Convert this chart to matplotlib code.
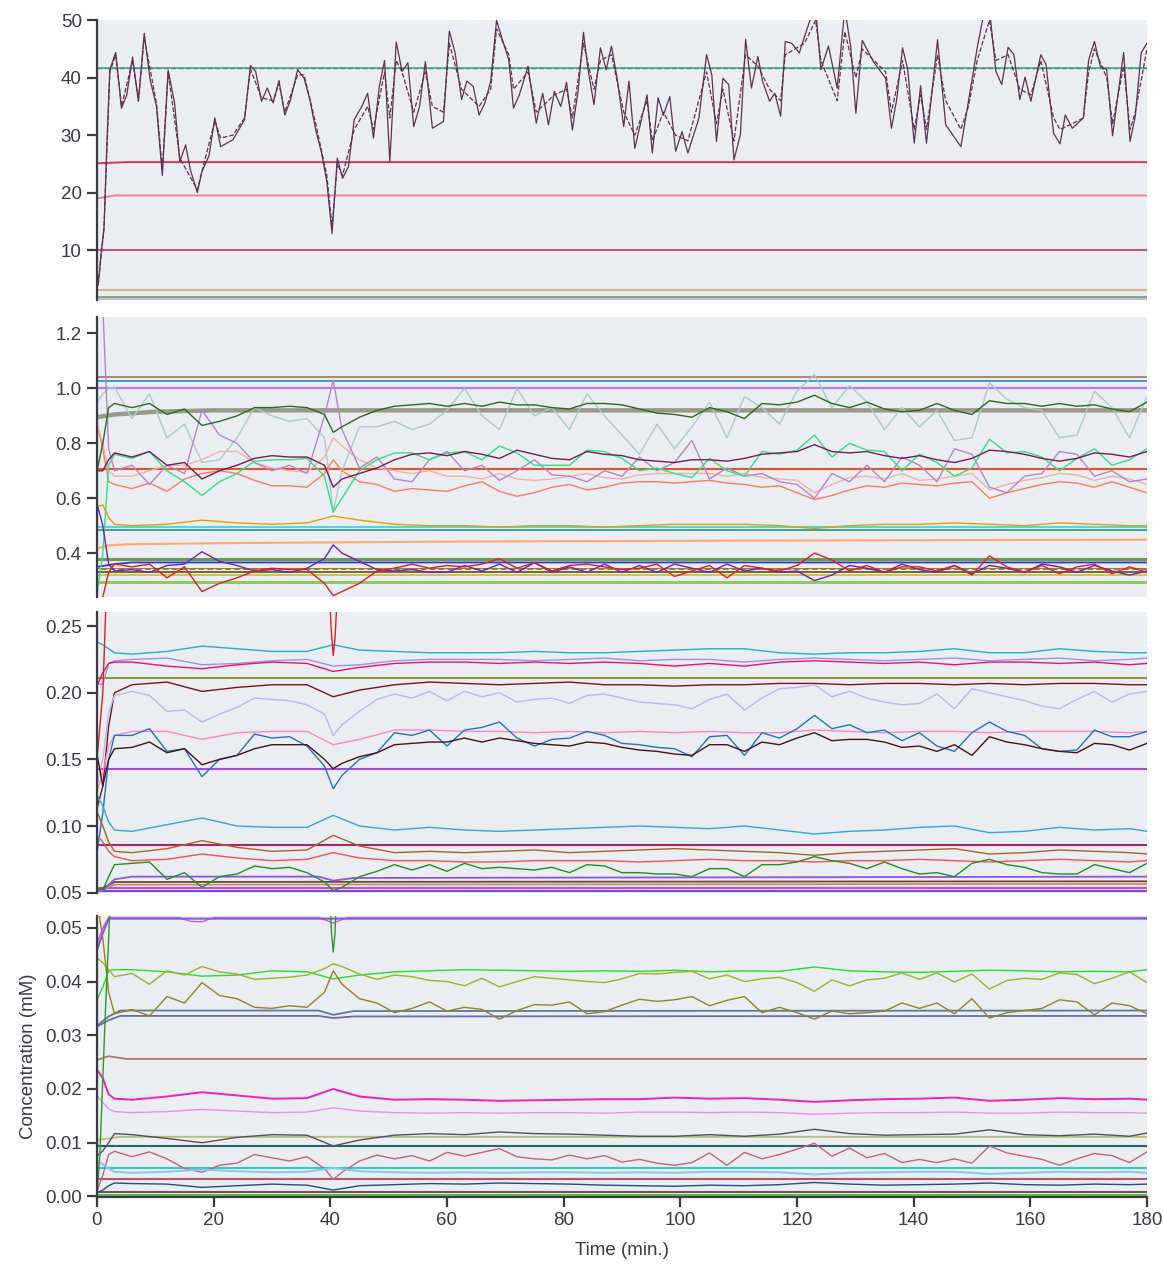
import numpy as np
import matplotlib.pyplot as plt

# ---------------- time grids ----------------
# fine grid (every 3 min, plus the event at 40.5 min)
t_fine = [0, 1, 2] + list(range(3, 40, 3)) + [40.5] + list(range(42, 181, 3))
# coarse grid (every 6 min, plus the event at 40.5 min)
t_coarse = [0, 1, 2, 3, 6, 12, 18, 24, 30, 36, 40.5] + list(range(45, 178, 6)) + [180]
t_flat = [0, 180]

# ---------------- panel 1 (mM, large) ----------------
t_main = [0.2, 0.7, 1.2, 1.7, 2.2, 3.2, 4.2, 5.1, 6.1, 7.1, 8.1, 9.1, 10.2, 11.2, 12.2,
          13.3, 14.2, 15.2, 16.0, 17.2, 18.0, 19.2, 20.2, 21.2, 23.3, 25.3, 26.3, 27.2,
          28.2, 29.2, 30.2, 31.2, 32.2, 33.2, 34.4, 35.5, 36.5, 37.5, 38.5, 39.4, 40.3,
          41.2, 42.1, 43.1, 44.1, 45.4, 46.4, 47.4, 48.4, 49.3, 50.2, 51.3, 52.3, 53.3,
          54.3, 55.3, 56.3, 57.5, 59.4, 60.4, 61.4, 62.5, 63.4, 64.5, 65.5, 66.5, 67.5,
          68.5, 69.5, 70.6, 71.4, 72.4, 73.9, 75.3, 76.4, 77.4, 78.4, 79.5, 80.5, 81.5,
          82.5, 83.4, 84.1, 85.2, 86.3, 87.3, 88.2, 89.2, 90.3, 91.2, 92.2, 94.3, 95.2,
          96.2, 97.1, 98.2, 99.2, 100.3, 101.3, 103.2, 104.5, 105.4, 106.2, 107.3, 108.3,
          109.2, 110.3, 111.2, 112.2, 113.3, 114.1, 115.3, 116.2, 117.2, 118.0, 119.1,
          120.4, 121.3, 122.4, 123.2, 124.1, 125.4, 126.9, 128.2, 129.2, 130.1, 131.2,
          133.1, 135.2, 136.2, 137.1, 138.1, 139.0, 140.1, 141.2, 142.2, 144.1, 145.5,
          148.1, 149.4, 150.9, 152.0, 153.0, 154.1, 155.1, 156.2, 157.2, 158.2, 159.1,
          160.1, 161.8, 162.7, 164.0, 165.1, 166.0, 167.2, 169.1, 170.0, 171.0, 172.0,
          173.1, 174.1, 176.0, 177.1, 178.0, 179.0, 180.0]
c_main = [3.9, 9.4, 13.8, 28.6, 41.4, 44.4, 34.7, 37.0, 43.6, 35.9, 47.7, 39.7, 35.0, 23.0,
          41.3, 35.6, 25.4, 28.3, 24.0, 20.0, 23.7, 26.4, 33.0, 28.0, 29.2, 32.7, 42.1, 41.1,
          35.9, 38.2, 35.6, 39.5, 33.5, 36.2, 41.4, 39.9, 36.2, 30.9, 26.9, 21.9, 12.9,
          26.0, 22.5, 24.5, 32.7, 35.0, 37.3, 29.5, 38.5, 43.0, 25.4, 46.2, 41.1, 42.6,
          31.5, 35.0, 42.8, 31.2, 32.4, 48.1, 44.3, 36.2, 39.4, 38.5, 33.5, 35.6, 39.4,
          50.0, 46.6, 43.1, 34.7, 37.0, 42.0, 32.1, 37.3, 31.8, 37.6, 35.0, 39.2, 30.9,
          37.9, 47.9, 42.0, 35.3, 45.2, 41.4, 45.5, 39.7, 31.5, 39.4, 27.7, 37.0, 26.9,
          36.5, 33.5, 36.7, 27.2, 30.6, 26.9, 33.0, 44.0, 40.5, 28.9, 39.9, 38.8,
          25.7, 30.1, 46.7, 38.2, 43.7, 39.4, 35.9, 37.3, 33.3, 46.3, 46.0,
          44.3, 47.2, 50.5, 52.0, 41.4, 45.5, 38.2, 52.0, 45.5, 33.8, 46.5,
          42.8, 39.9, 31.2, 36.2, 45.2, 41.4, 28.6, 38.6, 28.6, 46.6, 31.8,
          28.0, 35.9, 45.2, 51.0, 52.0, 41.1, 38.8, 45.3, 44.0, 36.2, 40.1,
          35.9, 44.0, 42.3, 30.3, 28.5, 33.5, 31.2, 33.0, 43.1, 46.3, 42.0,
          41.4, 29.9, 44.4, 28.9, 33.3, 44.3, 46.0]
t_main_pred = [0.2, 1.2, 2.2, 3.2, 4.2, 6.1, 7.1, 8.1, 10.2, 11.2, 12.2, 14.2, 17.2, 20.2,
               21.2, 23.3, 25.3, 26.3, 28.2, 30.2, 31.2, 32.2, 34.4, 35.5, 37.5, 39.4, 40.3,
               41.2, 42.1, 44.1, 46.4, 47.4, 49.3, 50.2, 51.3, 52.3, 54.3, 56.3, 57.5, 59.4,
               60.4, 62.5, 65.5, 67.5, 68.5, 70.6, 71.4, 73.9, 75.3, 78.4, 80.5, 81.5, 83.4,
               85.2, 86.3, 88.2, 90.3, 92.2, 94.3, 95.2, 97.1, 99.2, 101.3, 104.5, 106.2,
               107.3, 109.2, 111.2, 113.3, 115.3, 117.2, 118.0, 121.3, 123.2, 124.1, 126.9,
               128.2, 130.1, 131.2, 135.2, 136.2, 138.1, 140.1, 141.2, 142.2, 144.1, 145.5,
               148.1, 149.4, 150.9, 153.0, 154.1, 156.2, 158.2, 160.1, 161.8, 164.0, 165.1,
               167.2, 169.1, 170.0, 171.0, 173.1, 174.1, 176.0, 177.1, 178.0, 180.0]
c_main_pred = [3.9, 13.8, 41.0, 44.0, 35.0, 43.0, 36.0, 47.0, 35.5, 24.0, 41.0, 26.0, 20.5, 32.5,
               29.5, 30.0, 33.0, 41.5, 36.5, 36.0, 39.0, 34.0, 40.5, 40.5, 32.0, 23.0, 14.0,
               25.0, 23.0, 31.0, 35.0, 31.0, 41.0, 33.0, 43.0, 41.0, 34.0, 41.0, 35.0, 34.0,
               46.0, 38.0, 35.0, 38.0, 48.5, 44.0, 38.0, 41.0, 34.0, 37.0, 38.0, 33.0, 46.0,
               38.0, 43.0, 44.0, 34.0, 30.0, 36.0, 29.0, 34.0, 30.0, 29.0, 41.0, 32.0,
               38.0, 29.0, 44.0, 42.0, 38.0, 36.0, 44.0, 46.0, 50.0, 43.0, 36.0,
               48.0, 40.0, 45.0, 41.0, 34.0, 43.0, 31.0, 37.0, 31.0, 44.0, 36.0,
               31.0, 35.0, 43.0, 50.0, 43.0, 44.0, 38.0, 37.0, 43.0, 33.0, 31.0,
               32.0, 33.0, 41.0, 45.0, 40.0, 32.0, 42.0, 31.0, 34.0, 45.0]
p1_teal = [41.7, 41.7]
p1_crimson_t = [0, 5, 180]
p1_crimson = [25.1, 25.3, 25.3]
p1_pink_t = [0, 3, 180]
p1_pink = [19.0, 19.5, 19.5]
p1_ten_a = [10.05, 10.05]
p1_ten_b = [9.95, 9.95]
p1_tan = [3.0, 3.0]
p1_green = [1.75, 1.75]
p1_lilac = [1.45, 1.45]

# ---------------- panel 2 ----------------
p2_dkgreen = [0.70, 0.80, 0.93, 0.945, 0.93, 0.945, 0.905, 0.925, 0.865, 0.88, 0.90, 0.93,
              0.93, 0.935, 0.93, 0.905, 0.84, 0.86, 0.895, 0.92, 0.935, 0.94, 0.945, 0.935,
              0.945, 0.935, 0.95, 0.94, 0.94, 0.93, 0.925, 0.945, 0.945, 0.94, 0.925, 0.91,
              0.905, 0.895, 0.93, 0.915, 0.89, 0.945, 0.94, 0.95,
              0.975, 0.945, 0.93, 0.95, 0.925, 0.915, 0.92, 0.945, 0.92, 0.905, 0.955, 0.945,
              0.945, 0.935, 0.945, 0.935, 0.94, 0.925, 0.915, 0.95]
p2_ltteal = [0.95, 0.98, 1.0, 1.005, 0.89, 0.98, 0.82, 0.87, 0.73, 0.74, 0.82, 0.93,
             0.90, 0.88, 0.89, 0.82, 0.55, 0.70, 0.86, 0.86, 0.88, 0.85, 0.87, 0.92,
             1.0, 0.9, 0.85, 1.0, 0.9, 0.93, 0.85, 0.98, 0.9, 0.83, 0.76, 0.87,
             0.78, 0.86, 0.95, 0.82, 0.97, 0.93, 0.87, 0.99,
             1.05, 0.93, 1.01, 0.95, 0.85, 0.93, 0.86, 0.92, 0.81, 0.82, 1.02, 0.96,
             0.93, 0.92, 0.82, 0.83, 0.99, 0.93, 0.82, 0.97]
p2_plum = [0.70, 0.70, 0.74, 0.765, 0.75, 0.77, 0.72, 0.73, 0.67, 0.70, 0.72, 0.745,
           0.755, 0.75, 0.75, 0.72, 0.64, 0.67, 0.69, 0.71, 0.74, 0.76, 0.765, 0.755,
           0.77, 0.76, 0.745, 0.775, 0.76, 0.745, 0.74, 0.77, 0.76, 0.755, 0.74, 0.735,
           0.73, 0.74, 0.74, 0.735, 0.745, 0.76, 0.765, 0.77,
           0.795, 0.77, 0.765, 0.77, 0.755, 0.745, 0.755, 0.74, 0.73, 0.745, 0.775, 0.77,
           0.76, 0.745, 0.735, 0.745, 0.765, 0.76, 0.75, 0.77]
p2_spring = [0.25, 0.40, 0.72, 0.76, 0.745, 0.77, 0.70, 0.66, 0.61, 0.66, 0.69, 0.735,
             0.74, 0.74, 0.745, 0.68, 0.55, 0.60, 0.70, 0.74, 0.765, 0.765, 0.74, 0.765,
             0.77, 0.74, 0.79, 0.765, 0.72, 0.72, 0.72, 0.775, 0.77, 0.745, 0.70, 0.71,
             0.69, 0.675, 0.745, 0.70, 0.68, 0.77, 0.76, 0.775,
             0.83, 0.75, 0.80, 0.775, 0.77, 0.70, 0.76, 0.73, 0.68, 0.71, 0.815, 0.765,
             0.77, 0.75, 0.70, 0.745, 0.78, 0.72, 0.74, 0.78]
p2_lavender = [1.30, 1.30, 0.78, 0.70, 0.72, 0.65, 0.72, 0.69, 0.92, 0.83, 0.80, 0.73,
               0.70, 0.72, 0.69, 0.90, 1.03, 0.85, 0.71, 0.75, 0.67, 0.66, 0.74, 0.77,
               0.70, 0.72, 0.665, 0.70, 0.74, 0.685, 0.68, 0.66, 0.70, 0.68, 0.75, 0.70,
               0.73, 0.81, 0.67, 0.71, 0.68, 0.69, 0.66, 0.65,
               0.60, 0.69, 0.66, 0.72, 0.66, 0.75, 0.72, 0.66, 0.78, 0.76, 0.64, 0.62,
               0.68, 0.69, 0.77, 0.76, 0.68, 0.70, 0.66, 0.67]
p2_salmon = [0.87, 0.80, 0.70, 0.68, 0.68, 0.70, 0.72, 0.72, 0.74, 0.77, 0.77, 0.73,
             0.71, 0.70, 0.695, 0.75, 0.82, 0.79, 0.74, 0.71, 0.70, 0.69, 0.70, 0.68,
             0.68, 0.67, 0.69, 0.67, 0.665, 0.67, 0.68, 0.69, 0.675, 0.67, 0.685, 0.69,
             0.69, 0.69, 0.69, 0.68, 0.69, 0.675, 0.67, 0.665,
             0.62, 0.65, 0.675, 0.68, 0.67, 0.69, 0.665, 0.67, 0.68, 0.69, 0.63, 0.65,
             0.665, 0.675, 0.69, 0.685, 0.665, 0.68, 0.67, 0.65]
p2_coral = [0.87, 0.78, 0.66, 0.65, 0.635, 0.655, 0.625, 0.67, 0.69, 0.70, 0.69, 0.665,
            0.645, 0.645, 0.64, 0.69, 0.74, 0.70, 0.66, 0.65, 0.625, 0.635, 0.63, 0.625,
            0.645, 0.66, 0.625, 0.607, 0.62, 0.64, 0.65, 0.63, 0.64, 0.655, 0.66, 0.66,
            0.655, 0.66, 0.665, 0.655, 0.65, 0.64, 0.645, 0.62,
            0.595, 0.61, 0.63, 0.645, 0.64, 0.655, 0.65, 0.645, 0.655, 0.66, 0.60, 0.62,
            0.635, 0.65, 0.66, 0.655, 0.64, 0.66, 0.64, 0.62]
p2_purple = [0.58, 0.50, 0.36, 0.335, 0.34, 0.33, 0.355, 0.36, 0.405, 0.37, 0.355, 0.335,
             0.34, 0.33, 0.345, 0.38, 0.43, 0.40, 0.37, 0.34, 0.335, 0.34, 0.33, 0.33,
             0.355, 0.335, 0.36, 0.33, 0.365, 0.33, 0.35, 0.33, 0.36, 0.33, 0.355, 0.33,
             0.36, 0.345, 0.33, 0.36, 0.335, 0.345, 0.33, 0.335,
             0.30, 0.32, 0.355, 0.345, 0.33, 0.36, 0.34, 0.33, 0.355, 0.325, 0.355, 0.345,
             0.33, 0.36, 0.35, 0.33, 0.355, 0.335, 0.32, 0.335]
p2_red = [0.20, 0.24, 0.33, 0.36, 0.35, 0.36, 0.31, 0.35, 0.26, 0.29, 0.31, 0.335,
          0.345, 0.34, 0.34, 0.29, 0.245, 0.26, 0.29, 0.335, 0.345, 0.36, 0.345, 0.355,
          0.35, 0.36, 0.38, 0.345, 0.365, 0.335, 0.355, 0.36, 0.35, 0.34, 0.345, 0.36,
          0.315, 0.335, 0.355, 0.31, 0.355, 0.345, 0.335, 0.355,
          0.40, 0.375, 0.335, 0.355, 0.33, 0.35, 0.35, 0.335, 0.355, 0.32, 0.39, 0.35,
          0.33, 0.355, 0.325, 0.35, 0.36, 0.325, 0.35, 0.33]
p2_gold = [0.57, 0.575, 0.53, 0.505, 0.50, 0.505, 0.52, 0.51, 0.505, 0.51, 0.535, 0.52,
           0.505, 0.50, 0.50, 0.495, 0.50, 0.50, 0.495, 0.50, 0.505, 0.505, 0.505, 0.50,
           0.49, 0.50, 0.505, 0.505, 0.51, 0.505, 0.50, 0.51, 0.505, 0.50, 0.50]
p2_grey_t = [0, 3, 10, 20, 180]
p2_grey = [0.895, 0.905, 0.915, 0.92, 0.92]
p2_lorange_t = [0, 2, 5, 20, 60, 120, 180]
p2_lorange = [0.417, 0.428, 0.432, 0.436, 0.442, 0.446, 0.449]
p2_blue_t = [0, 3, 6, 180]
p2_blue = [0.35, 0.36, 0.366, 0.366]
p2_flats = {"brown": 1.043, "steel": 1.027, "violet": 1.0, "orangered": 0.707,
            "cyan": 0.495, "teal": 0.486, "green": 0.378, "olivebrown": 0.342,
            "darkolive": 0.333, "yellow": 0.320, "lightgreen": 0.293}

# ---------------- panel 3 ----------------
p3_cyan = [0.238, 0.236, 0.233, 0.230, 0.229, 0.231, 0.235, 0.233, 0.231, 0.231, 0.236, 0.232,
           0.231, 0.230, 0.230, 0.230, 0.231, 0.230, 0.230, 0.231, 0.232, 0.233, 0.233, 0.230,
           0.229, 0.230, 0.230, 0.231, 0.233, 0.230, 0.230, 0.233, 0.231, 0.230, 0.230]
p3_peri = [0.207, 0.206, 0.222, 0.224, 0.225, 0.226, 0.221, 0.222, 0.224, 0.225, 0.220, 0.221,
           0.224, 0.225, 0.225, 0.225, 0.224, 0.225, 0.226, 0.224, 0.225, 0.225, 0.223, 0.225,
           0.226, 0.225, 0.224, 0.225, 0.226, 0.224, 0.225, 0.226, 0.224, 0.225, 0.226]
p3_crimson = [0.205, 0.215, 0.222, 0.223, 0.223, 0.220, 0.218, 0.221, 0.223, 0.222, 0.216, 0.219,
              0.222, 0.223, 0.223, 0.222, 0.223, 0.222, 0.223, 0.222, 0.220, 0.222, 0.220, 0.223,
              0.224, 0.223, 0.222, 0.223, 0.221, 0.223, 0.223, 0.222, 0.223, 0.221, 0.222]
p3_maroon = [0.113, 0.13, 0.175, 0.200, 0.206, 0.208, 0.201, 0.204, 0.206, 0.206, 0.197, 0.202,
             0.206, 0.208, 0.207, 0.206, 0.207, 0.208, 0.206, 0.206, 0.205, 0.206, 0.206, 0.207,
             0.207, 0.206, 0.207, 0.207, 0.206, 0.207, 0.206, 0.207, 0.207, 0.206, 0.206]
p3_lilac = [0.131, 0.15, 0.185, 0.198, 0.201, 0.198, 0.186, 0.187, 0.178, 0.184, 0.189, 0.196,
            0.195, 0.194, 0.191, 0.184, 0.168, 0.176, 0.186, 0.195, 0.199, 0.196, 0.201, 0.194,
            0.201, 0.197, 0.200, 0.193, 0.195, 0.196, 0.192, 0.198, 0.199, 0.196, 0.193, 0.192,
            0.191, 0.188, 0.195, 0.199, 0.187, 0.196, 0.203, 0.204,
            0.206, 0.197, 0.201, 0.196, 0.193, 0.191, 0.192, 0.199, 0.188, 0.203, 0.200, 0.197,
            0.194, 0.190, 0.188, 0.195, 0.201, 0.193, 0.199, 0.201]
p3_pink = [0.126, 0.14, 0.16, 0.168, 0.171, 0.171, 0.165, 0.170, 0.171, 0.171, 0.161, 0.165,
           0.172, 0.172, 0.171, 0.171, 0.170, 0.171, 0.170, 0.171, 0.170, 0.171, 0.170, 0.170,
           0.172, 0.171, 0.170, 0.171, 0.171, 0.170, 0.171, 0.171, 0.171, 0.170, 0.171]
p3_blue = [0.08, 0.11, 0.15, 0.168, 0.168, 0.173, 0.156, 0.158, 0.137, 0.150, 0.153, 0.169,
           0.166, 0.167, 0.160, 0.145, 0.128, 0.138, 0.150, 0.155, 0.170, 0.168, 0.172, 0.160,
           0.172, 0.174, 0.178, 0.166, 0.160, 0.165, 0.166, 0.171, 0.168, 0.162, 0.161, 0.159,
           0.158, 0.152, 0.167, 0.168, 0.153, 0.170, 0.166, 0.173,
           0.183, 0.173, 0.176, 0.170, 0.172, 0.164, 0.170, 0.160, 0.156, 0.170, 0.178, 0.171,
           0.168, 0.158, 0.156, 0.157, 0.172, 0.167, 0.167, 0.171]
p3_dkbrown = [0.154, 0.13, 0.15, 0.158, 0.159, 0.163, 0.155, 0.158, 0.146, 0.150, 0.153, 0.158,
              0.161, 0.161, 0.161, 0.150, 0.143, 0.147, 0.152, 0.155, 0.161, 0.162, 0.163, 0.163,
              0.166, 0.163, 0.166, 0.164, 0.162, 0.161, 0.160, 0.163, 0.162, 0.159, 0.157, 0.156,
              0.154, 0.153, 0.161, 0.161, 0.156, 0.163, 0.161, 0.166,
              0.170, 0.164, 0.165, 0.165, 0.163, 0.159, 0.160, 0.156, 0.161, 0.153, 0.167, 0.163,
              0.161, 0.158, 0.156, 0.155, 0.162, 0.161, 0.157, 0.162]
p3_sky = [0.123, 0.115, 0.103, 0.097, 0.096, 0.101, 0.106, 0.100, 0.099, 0.099, 0.108, 0.100,
          0.097, 0.099, 0.097, 0.096, 0.097, 0.098, 0.099, 0.100, 0.099, 0.098, 0.100, 0.097,
          0.094, 0.096, 0.097, 0.099, 0.100, 0.095, 0.096, 0.099, 0.097, 0.098, 0.096]
p3_sienna = [0.111, 0.10, 0.088, 0.081, 0.080, 0.083, 0.089, 0.084, 0.081, 0.082, 0.093, 0.085,
             0.080, 0.081, 0.080, 0.081, 0.082, 0.080, 0.081, 0.082, 0.083, 0.082, 0.081, 0.080,
             0.078, 0.080, 0.081, 0.082, 0.083, 0.079, 0.080, 0.082, 0.081, 0.080, 0.079]
p3_ltred = [0.093, 0.088, 0.081, 0.077, 0.074, 0.075, 0.079, 0.076, 0.074, 0.075, 0.080, 0.076,
            0.074, 0.074, 0.073, 0.073, 0.074, 0.074, 0.074, 0.073, 0.074, 0.075, 0.074, 0.074,
            0.073, 0.074, 0.074, 0.075, 0.074, 0.073, 0.074, 0.075, 0.074, 0.073, 0.074]
p3_green = [0.053, 0.052, 0.062, 0.071, 0.072, 0.073, 0.060, 0.065, 0.054, 0.062, 0.064, 0.070,
            0.068, 0.069, 0.065, 0.058, 0.0515, 0.054, 0.062, 0.066, 0.071, 0.067, 0.071, 0.066,
            0.072, 0.068, 0.069, 0.068, 0.067, 0.069, 0.065, 0.071, 0.070, 0.065, 0.065, 0.064,
            0.064, 0.062, 0.068, 0.068, 0.062, 0.071, 0.071, 0.073,
            0.077, 0.074, 0.072, 0.068, 0.073, 0.068, 0.064, 0.065, 0.062, 0.072, 0.075, 0.071,
            0.069, 0.065, 0.064, 0.064, 0.071, 0.068, 0.065, 0.072]
p3_mpurple_t = [0, 1, 2, 3, 6, 38, 40.5, 44, 180]
p3_mpurple = [0.052, 0.051, 0.056, 0.060, 0.062, 0.062, 0.059, 0.061, 0.062]
p3_browns_t = [0, 3, 180]
p3_brown_a = [0.051, 0.058, 0.0585]
p3_brown_b = [0.050, 0.056, 0.0565]
p3_spike_t = [0, 1, 1.8, 39.5, 40.2, 40.5, 40.8, 41.5, 180]
p3_spike = [0.15, 0.20, 0.30, 0.30, 0.245, 0.228, 0.24, 0.30, 0.30]
p3_flats = {"olive": 0.2108, "purple": 0.1425, "darkmagenta": 0.0858,
            "magenta": 0.0535, "blueviolet": 0.0515}

# ---------------- panel 4 ----------------
p4_violet_t = [0, 1, 2, 180]
p4_violet = [0.0459, 0.049, 0.0517, 0.0517]
p4_magenta_top_t = [0, 1, 2, 14, 16, 18, 20, 38, 40.5, 43, 180]
p4_magenta_top = [0.047, 0.050, 0.0519, 0.0519, 0.0512, 0.0511, 0.0519, 0.0519, 0.0509,
                  0.0519, 0.0519]
p4_spike_t = [0, 0.5, 1.0, 1.5, 2.0, 2.4, 39.8, 40.2, 40.5, 40.8, 41.2, 180]
p4_spike = [0.0, 0.008, 0.022, 0.036, 0.048, 0.06, 0.06, 0.049, 0.0455, 0.049, 0.06, 0.06]
p4_lime = [0.0366, 0.039, 0.042, 0.0422, 0.0422, 0.0418, 0.0410, 0.0412, 0.0420, 0.0418, 0.0405,
           0.0412, 0.0418, 0.0420, 0.0422, 0.0421, 0.0420, 0.0419, 0.0420, 0.0419, 0.0421,
           0.0418, 0.0420, 0.0419, 0.0427, 0.0420, 0.0418, 0.0417, 0.0419, 0.0421, 0.0420,
           0.0418, 0.0419, 0.0418, 0.0422]
p4_yolive = [0.0444, 0.0435, 0.0422, 0.0409, 0.0415, 0.0395, 0.0420, 0.0412, 0.0428, 0.0418,
             0.0414, 0.0404, 0.0406, 0.0408, 0.0412, 0.0424, 0.0433, 0.0428, 0.0414, 0.0404,
             0.0412, 0.0409, 0.0402, 0.0400,
             0.0392, 0.0406, 0.0390, 0.0400, 0.0409, 0.0406, 0.0403, 0.0400, 0.0398, 0.0405,
             0.0415, 0.0414, 0.0417, 0.0419, 0.0405, 0.0412, 0.0400, 0.0405, 0.0408, 0.0398,
             0.0382, 0.0403, 0.0392, 0.0403, 0.0406, 0.0416, 0.0404, 0.0416, 0.0399, 0.0414,
             0.0386, 0.0402, 0.0406, 0.0404, 0.0416, 0.0413, 0.0396, 0.0406, 0.0418, 0.0398]
p4_obrown = [0.055, 0.048, 0.038, 0.0340, 0.0348, 0.0336, 0.0372, 0.0360, 0.0398, 0.0374,
             0.0368, 0.0352, 0.0350, 0.0355, 0.0352, 0.0380, 0.0420, 0.0395, 0.0368, 0.0360,
             0.0342, 0.0350, 0.0362, 0.0345,
             0.0352, 0.0348, 0.0330, 0.0346, 0.0357, 0.0356, 0.0362, 0.0340, 0.0344, 0.0356,
             0.0367, 0.0363, 0.0366, 0.0372, 0.0355, 0.0365, 0.0372, 0.0342, 0.0352, 0.0342,
             0.0330, 0.0345, 0.0340, 0.0342, 0.0345, 0.0360, 0.0350, 0.0360, 0.0340, 0.0368,
             0.0332, 0.0342, 0.0346, 0.0350, 0.0366, 0.0362, 0.0338, 0.0360, 0.0355, 0.0340]
p4_slate_t = [0, 2, 4, 38, 40.5, 44, 180]
p4_slate = [0.0318, 0.0335, 0.0346, 0.0346, 0.0338, 0.0345, 0.0346]
p4_navylav = [0.0316, 0.0328, 0.0336, 0.0336, 0.0332, 0.0335, 0.0336]
p4_rosybrown_t = [0, 2, 5, 180]
p4_rosybrown = [0.0254, 0.0261, 0.0256, 0.0256]
p4_magenta = [0.0236, 0.022, 0.019, 0.0182, 0.0180, 0.0186, 0.0194, 0.0188, 0.0182, 0.0183,
              0.0200, 0.0186, 0.0180, 0.0181, 0.0180, 0.0178, 0.0179, 0.0180, 0.0181, 0.0181,
              0.0184, 0.0182, 0.0183, 0.0180, 0.0176, 0.0179, 0.0181, 0.0182, 0.0184, 0.0178,
              0.0180, 0.0183, 0.0181, 0.0182, 0.0180]
p4_orchid = [0.0187, 0.0175, 0.0163, 0.0158, 0.0156, 0.0158, 0.0162, 0.0159, 0.0156, 0.0157,
             0.0165, 0.0159, 0.0156, 0.0155, 0.0156, 0.0155, 0.0156, 0.0156, 0.0155, 0.0157,
             0.0157, 0.0156, 0.0157, 0.0156, 0.0153, 0.0155, 0.0156, 0.0156, 0.0157, 0.0155,
             0.0155, 0.0157, 0.0156, 0.0156, 0.0155]
p4_plumgrey = [0.0075, 0.0085, 0.010, 0.0117, 0.0115, 0.0108, 0.0100, 0.0110, 0.0115, 0.0114,
               0.0094, 0.0105, 0.0114, 0.0117, 0.0115, 0.0120, 0.0117, 0.0116, 0.0114, 0.0112,
               0.0112, 0.0115, 0.0112, 0.0116, 0.0125, 0.0117, 0.0114, 0.0115, 0.0116, 0.0124,
               0.0115, 0.0113, 0.0116, 0.0112, 0.0118]
p4_olivelight_t = [0, 4, 180]
p4_olivelight = [0.0105, 0.0111, 0.0111]
p4_rose = [0.001, 0.004, 0.0078, 0.0084, 0.0074, 0.0083, 0.0070, 0.0052, 0.0045, 0.0058,
           0.0062, 0.0078, 0.0072, 0.0066, 0.0074, 0.0052, 0.0032, 0.0045, 0.0066, 0.0077,
           0.0070, 0.0076, 0.0066, 0.0082,
           0.0075, 0.0082, 0.0089, 0.0074, 0.0070, 0.0068, 0.0077, 0.0070, 0.0076, 0.0064,
           0.0069, 0.0062, 0.0058, 0.0063, 0.0081, 0.0058, 0.0082, 0.0070, 0.0078, 0.0088,
           0.0099, 0.0075, 0.0090, 0.0072, 0.0080, 0.0063, 0.0069, 0.0063, 0.0070, 0.0062,
           0.0094, 0.0081, 0.0075, 0.0069, 0.0058, 0.0070, 0.0080, 0.0076, 0.0063, 0.0083]
p4_ltsky = [0.0066, 0.006, 0.0052, 0.0046, 0.0044, 0.0046, 0.0050, 0.0047, 0.0045, 0.0046,
            0.0053, 0.0047, 0.0045, 0.0044, 0.0045, 0.0044, 0.0045, 0.0045, 0.0044, 0.0045,
            0.0044, 0.0046, 0.0046, 0.0045, 0.0041, 0.0044, 0.0045, 0.0046, 0.0046, 0.0042,
            0.0044, 0.0046, 0.0045, 0.0046, 0.0044]
p4_navy = [0.0007, 0.0012, 0.0020, 0.0025, 0.0024, 0.0023, 0.0017, 0.0020, 0.0023, 0.0021,
           0.0012, 0.0020, 0.0022, 0.0024, 0.0023, 0.0025, 0.0024, 0.0023, 0.0021, 0.0020,
           0.0019, 0.0021, 0.0020, 0.0022, 0.0026, 0.0023, 0.0021, 0.0022, 0.0023, 0.0025,
           0.0022, 0.0021, 0.0023, 0.0022, 0.0023]
p4_flats = {"darkteal": 0.0093, "turquoise": 0.0053, "maroon": 0.0033,
            "darkbrown": 0.0009, "green": 0.0003}

# ---------------- figure ----------------
BG = "#eaedf2"
INK = "#3a3a44"
plt.rcParams["font.family"] = ["Liberation Sans", "DejaVu Sans"]

fig = plt.figure(figsize=(11.63, 12.66), dpi=100)
rects = [[0.0834, 0.763, 0.9028, 0.221],
         [0.0834, 0.5284, 0.9028, 0.2212],
         [0.0834, 0.2946, 0.9028, 0.222],
         [0.0834, 0.0545, 0.9028, 0.222]]
axes = [fig.add_axes(r) for r in rects]

LW = 1.0

# panel 1
ax = axes[0]
ax.plot(t_flat, p1_teal, color="#5fae9e", lw=1.3)
ax.plot(t_flat, p1_teal, color="#3f9484", lw=1.0, ls="--")
ax.plot(p1_crimson_t, p1_crimson, color="#d2335a", lw=1.4)
ax.plot(p1_pink_t, p1_pink, color="#f27d93", lw=1.4)
ax.plot(t_flat, p1_ten_a, color="#7060a8", lw=1.1)
ax.plot(t_flat, p1_ten_b, color="#d84a5a", lw=1.1)
ax.plot(t_flat, p1_tan, color="#dcb48a", lw=1.6)
ax.plot(t_flat, p1_green, color="#5e9e70", lw=1.2)
ax.plot(t_flat, p1_lilac, color="#c9a6d6", lw=1.2)
ax.plot(t_main_pred, c_main_pred, color="#5e3052", lw=0.9, ls="--")
ax.plot(t_main, c_main, color="#5e3052", lw=0.9)
ax.set_ylim(1.3, 50)
ax.set_yticks([10, 20, 30, 40, 50])

# panel 2
ax = axes[1]
flat_colors2 = {"brown": "#a08070", "steel": "#3d93c9", "violet": "#b77af5",
                "orangered": "#e2542a", "cyan": "#4fd6e6", "teal": "#2e9c96",
                "green": "#6a9a50", "olivebrown": "#8a7030", "darkolive": "#6f5a12",
                "yellow": "#c9c43c", "lightgreen": "#8fca5e"}
flat_lw2 = {"violet": 1.6, "orangered": 1.5, "green": 2.2, "lightgreen": 2.2, "cyan": 1.5}
for name, val in p2_flats.items():
    ax.plot(t_flat, [val, val], color=flat_colors2[name], lw=flat_lw2.get(name, 1.3))
ax.plot(t_flat, [p2_flats["olivebrown"]] * 2, color="#e8e0c0", lw=0.8, ls=(0, (3, 5)))
ax.plot(p2_grey_t, p2_grey, color="#8b8b78", lw=3.2, alpha=0.85)
ax.plot(p2_lorange_t, p2_lorange, color="#ffa872", lw=1.5)
ax.plot(p2_blue_t, p2_blue, color="#2a3ad0", lw=1.3)
ax.plot(t_fine, p2_ltteal, color="#a9cccb", lw=LW)
ax.plot(t_fine, p2_coral, color="#ff7a5a", lw=LW)
ax.plot(t_fine, p2_salmon, color="#f0b2a8", lw=LW)
ax.plot(t_fine, p2_lavender, color="#b584cc", lw=LW)
ax.plot(t_fine, p2_spring, color="#2fe084", lw=LW)
ax.plot(t_fine, p2_plum, color="#7a1a5a", lw=LW)
ax.plot(t_fine, p2_dkgreen, color="#2d6a1c", lw=LW)
ax.plot(t_coarse, p2_gold, color="#e0a000", lw=LW)
ax.plot(t_fine, p2_purple, color="#7020c0", lw=LW)
ax.plot(t_fine, p2_red, color="#e02020", lw=LW)
ax.set_ylim(0.24, 1.26)
ax.set_yticks([0.4, 0.6, 0.8, 1.0, 1.2])
ax.set_yticklabels(["0.4", "0.6", "0.8", "1.0", "1.2"])

# panel 3
ax = axes[2]
flat_colors3 = {"olive": "#8a9a3a", "purple": "#a64ad6", "darkmagenta": "#a3286a",
                "magenta": "#e040e0", "blueviolet": "#6a4af0"}
for name, val in p3_flats.items():
    ax.plot(t_flat, [val, val], color=flat_colors3[name], lw=1.5)
ax.plot(p3_browns_t, p3_brown_a, color="#6b4a2a", lw=1.3)
ax.plot(p3_browns_t, p3_brown_b, color="#c08a70", lw=1.2)
ax.plot(p3_mpurple_t, p3_mpurple, color="#9050f0", lw=1.3)
ax.plot(t_coarse, p3_cyan, color="#22b0c2", lw=LW)
ax.plot(t_coarse, p3_peri, color="#9a90f0", lw=LW)
ax.plot(t_coarse, p3_crimson, color="#f01060", lw=LW)
ax.plot(t_coarse, p3_maroon, color="#7a1414", lw=LW)
ax.plot(t_fine, p3_lilac, color="#c2b4f2", lw=LW)
ax.plot(t_coarse, p3_pink, color="#ff86c4", lw=LW)
ax.plot(t_fine, p3_blue, color="#1f72d0", lw=LW)
ax.plot(t_fine, p3_dkbrown, color="#4a1212", lw=LW)
ax.plot(t_coarse, p3_sky, color="#34a2f0", lw=LW)
ax.plot(t_coarse, p3_sienna, color="#b0601e", lw=LW)
ax.plot(t_coarse, p3_ltred, color="#ff4c4c", lw=LW)
ax.plot(t_fine, p3_green, color="#22901c", lw=LW)
ax.plot(p3_spike_t, p3_spike, color="#e02020", lw=LW)
ax.set_ylim(0.0497, 0.2606)
ax.set_yticks([0.05, 0.10, 0.15, 0.20, 0.25])
ax.set_yticklabels(["0.05", "0.10", "0.15", "0.20", "0.25"])

# panel 4
ax = axes[3]
flat_colors4 = {"darkteal": "#2b6565", "turquoise": "#34c9b9", "maroon": "#b5566a",
                "darkbrown": "#7a5050", "green": "#5cc040"}
for name, val in p4_flats.items():
    ax.plot(t_flat, [val, val], color=flat_colors4[name], lw=1.5)
ax.plot(p4_olivelight_t, p4_olivelight, color="#b9bd78", lw=1.3)
ax.plot(p4_rosybrown_t, p4_rosybrown, color="#b07868", lw=1.3)
ax.plot(p4_slate_t, p4_slate, color="#5f7a96", lw=1.3)
ax.plot(p4_slate_t, p4_navylav, color="#6c6caa", lw=1.3)
ax.plot(p4_magenta_top_t, p4_magenta_top, color="#e050e8", lw=LW)
ax.plot(p4_violet_t, p4_violet, color="#7b5cf0", lw=1.5)
ax.plot(t_coarse, p4_lime, color="#22e022", lw=LW)
ax.plot(t_fine, p4_yolive, color="#a4b022", lw=LW)
ax.plot(t_fine, p4_obrown, color="#9a8020", lw=LW)
ax.plot(t_coarse, p4_magenta, color="#f020c0", lw=1.4)
ax.plot(t_coarse, p4_orchid, color="#e890f0", lw=LW)
ax.plot(t_coarse, p4_plumgrey, color="#5a4a6a", lw=LW)
ax.plot(t_fine, p4_rose, color="#c86080", lw=LW)
ax.plot(t_coarse, p4_ltsky, color="#80c8f8", lw=1.4)
ax.plot(t_coarse, p4_navy, color="#2a4a88", lw=LW)
ax.plot(p4_spike_t, p4_spike, color="#2a9a2a", lw=LW)
ax.set_ylim(-0.0001, 0.0522)
ax.set_yticks([0.0, 0.01, 0.02, 0.03, 0.04, 0.05])
ax.set_yticklabels(["0.00", "0.01", "0.02", "0.03", "0.04", "0.05"])
ax.set_ylabel("Concentration (mM)", fontsize=13.5, color=INK, labelpad=6)
ax.set_xlabel("Time (min.)", fontsize=13.5, color=INK, labelpad=9)

for i, ax in enumerate(axes):
    ax.set_facecolor(BG)
    ax.set_xlim(0, 180)
    for side in ["top", "right"]:
        ax.spines[side].set_visible(False)
    ax.spines["left"].set_color(INK)
    ax.spines["left"].set_linewidth(1.6)
    ax.tick_params(axis="y", length=7, width=1.6, colors=INK, labelsize=13.5, pad=4)
    if i < 3:
        ax.spines["bottom"].set_visible(False)
        ax.set_xticks([])
    else:
        ax.spines["bottom"].set_color(INK)
        ax.spines["bottom"].set_linewidth(1.6)
        ax.set_xticks(range(0, 181, 20))
        ax.tick_params(axis="x", length=7, width=1.6, colors=INK, labelsize=13.5, pad=4)

fig.savefig("out.png", dpi=100)
